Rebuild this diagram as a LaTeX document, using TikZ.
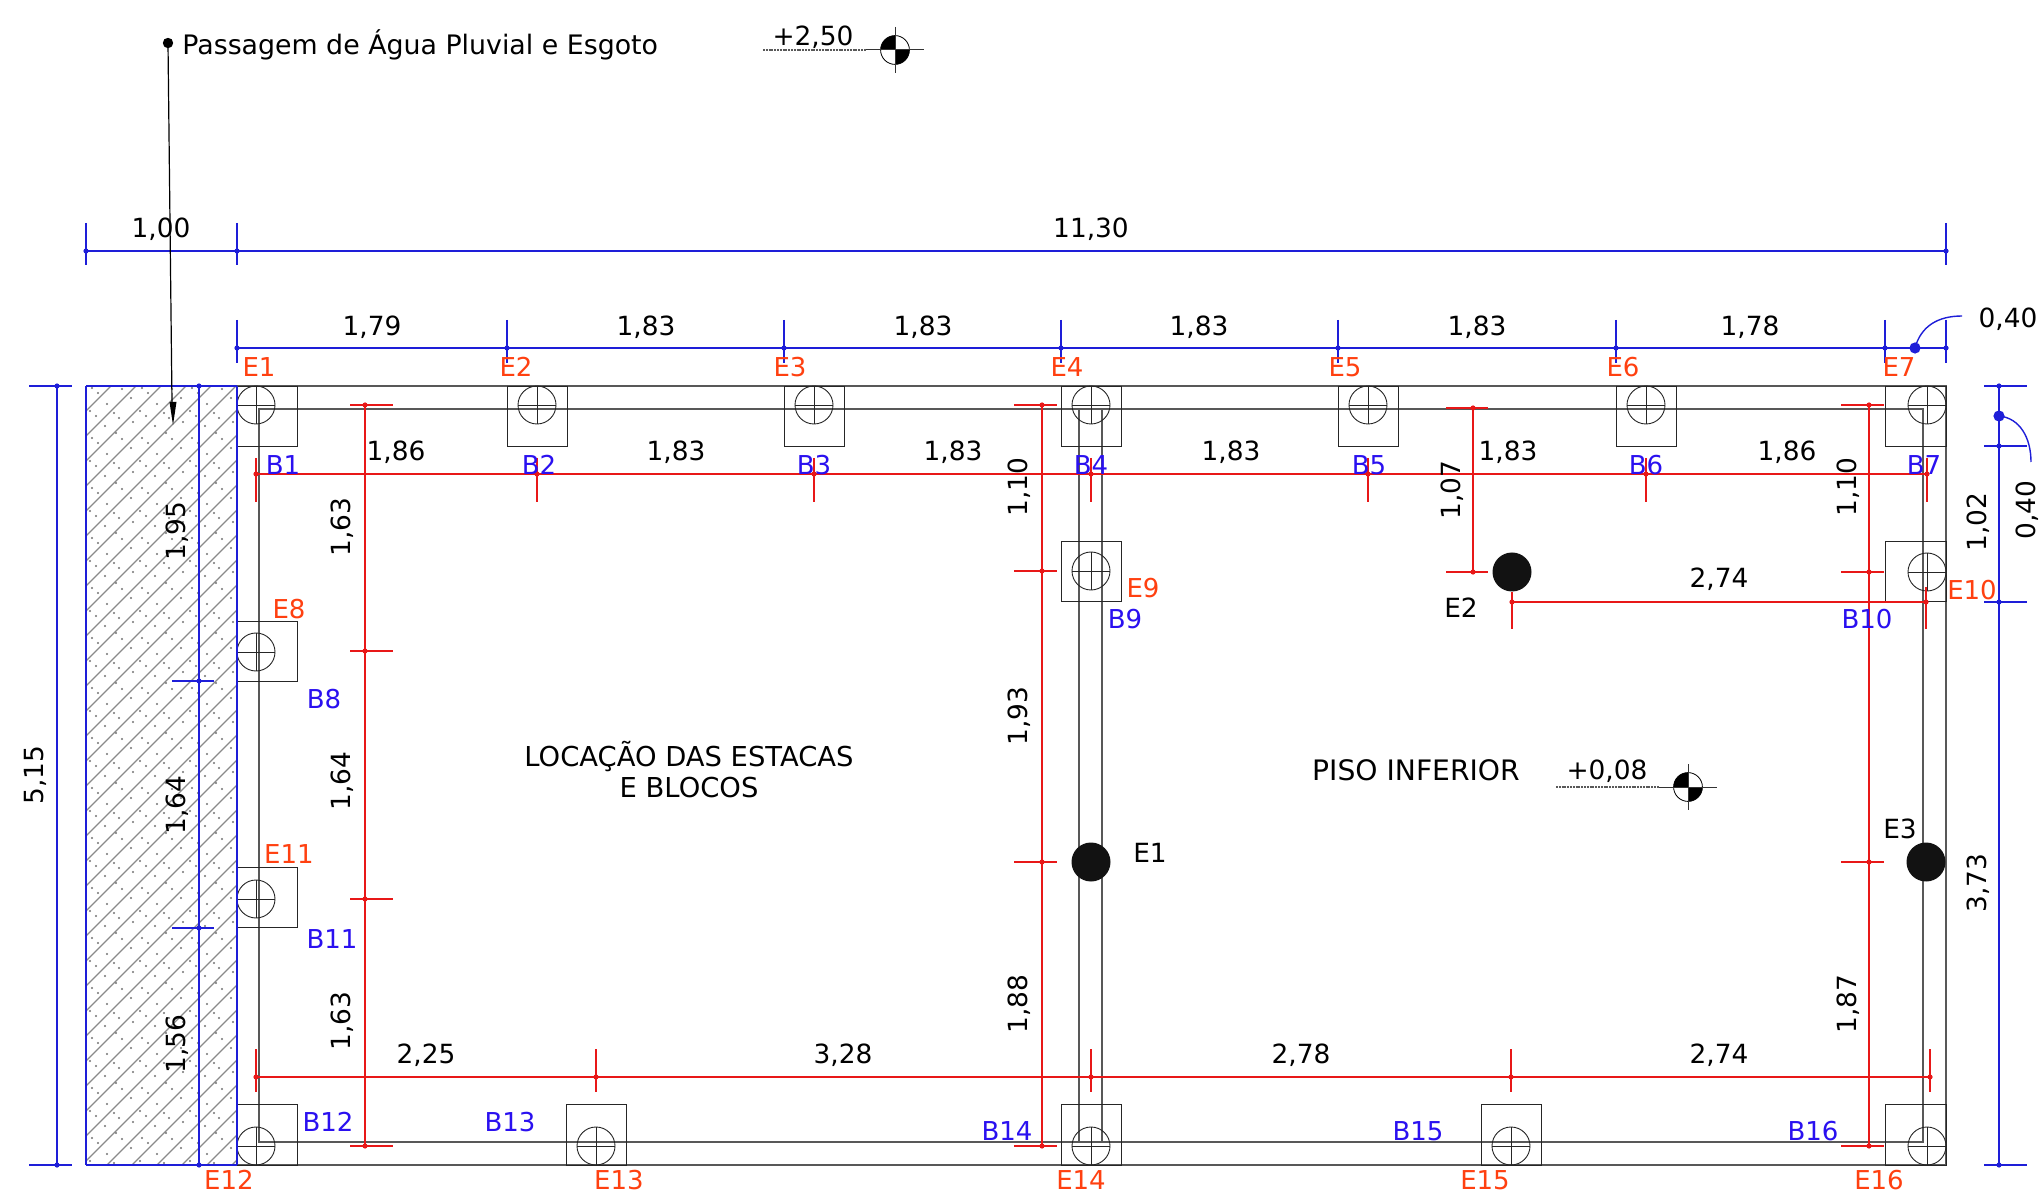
\documentclass[tikz,border=0pt]{standalone}
\usepackage{fontspec}
\setmainfont{DejaVu Sans}
\definecolor{bluel}{HTML}{1E1ED8}
\definecolor{bluet}{HTML}{2A10F0}
\definecolor{redl}{HTML}{E81818}
\definecolor{redt}{HTML}{FF4010}
\definecolor{wall}{HTML}{585858}
\definecolor{hatchg}{HTML}{8A8A8A}
\tikzset{
  wallline/.style={draw=wall,line width=0.55pt},
  blockbox/.style={draw=black!85,line width=0.45pt},
  pilering/.style={draw=black!85,line width=0.45pt},
  bdim/.style={draw=bluel,line width=0.7pt},
  rdim/.style={draw=redl,line width=0.7pt},
  txt/.style={font=\fontsize{13.2pt}{14pt}\selectfont,text=black,inner sep=0pt},
  bluetxt/.style={font=\fontsize{13pt}{14pt}\selectfont,text=bluet,inner sep=0pt},
  redtxt/.style={font=\fontsize{13pt}{14pt}\selectfont,text=redt,inner sep=0pt},
  solidpile/.style={circle,fill=black!93,draw=none,minimum size=19.5pt,inner sep=0pt},
}
% block: left, top, pile x, pile y
\newcommand{\blockat}[4]{%
  \draw[blockbox] (#1,#2) rectangle (#1+60.5,#2+60.5);
  \draw[pilering] (#3,#4) circle[radius=9.5pt];
  \draw[pilering] (#3-19,#4) -- (#3+19,#4) (#3,#4-19) -- (#3,#4+19);
}
% level marker: centre x, centre y, line start x
\newcommand{\levelmark}[3]{%
  \draw[black!65,line width=0.6pt,dash pattern=on 1pt off 0.4pt] (#3,#2) -- (#1-29,#2);
  \fill[white] (#1,#2) circle[radius=7.2pt];
  \fill[black] (#1,#2) -- (#1-14.4,#2) arc[start angle=180,end angle=90,radius=7.2pt] -- cycle;
  \fill[black] (#1,#2) -- (#1+14.4,#2) arc[start angle=0,end angle=-90,radius=7.2pt] -- cycle;
  \draw[black,line width=0.4pt] (#1,#2) circle[radius=7.2pt];
  \draw[black!80,line width=0.5pt] (#1-29,#2) -- (#1+29,#2) (#1,#2-23) -- (#1,#2+23);
}
\newcommand{\vlab}[3]{\node[txt,rotate=90,yshift=-0.6pt] at (#1,#2) {#3};}
\newcommand{\hlab}[3]{\node[txt,yshift=-0.4pt] at (#1,#2) {#3};}
\newcommand{\blab}[3]{\node[bluetxt,yshift=-0.4pt] at (#1,#2) {#3};}
\newcommand{\rlab}[3]{\node[redtxt,yshift=-0.4pt] at (#1,#2) {#3};}
\begin{document}
\begin{tikzpicture}[x=0.5pt,y=-0.5pt]
\useasboundingbox (0,0) rectangle (2042,1192);
\fill[white] (0,0) rectangle (2042,1192);
% hatched strip
\begin{scope}
\clip (86,386) rectangle (237,1165);
\foreach \c in {386,411,...,1340}
  \draw[hatchg,line width=0.7pt] (86,\c) -- (237,\c-151);
\foreach \yy in {380,430,...,1180}
  \foreach \xx in {86,136,186,236} {
    \foreach \dx/\dy in {6/8,12/13,30/3,36/9,21/24,45/18,4/31,10/36,28/33,33/38,47/42,19/46}
      \fill[black!55] (\xx+\dx,\yy+\dy) circle[radius=0.6pt];
  }
\end{scope}
% walls
\draw[wallline] (237,386) -- (1946,386) -- (1946,1165) -- (237,1165);
\draw[wallline] (259,1142) -- (259,409) -- (1923,409) -- (1923,1142) -- cycle;
\draw[wallline] (1079,409) -- (1079,1142) (1102,409) -- (1102,1142);
% blocks
\blockat{237}{386}{256}{405}
\blockat{507}{386}{537}{405}
\blockat{784}{386}{814}{405}
\blockat{1061}{386}{1091}{405}
\blockat{1338}{386}{1368}{405}
\blockat{1616}{386}{1646}{405}
\blockat{1885.5}{386}{1927}{405}
\blockat{237}{621}{256}{652}
\blockat{1061}{541}{1091}{571}
\blockat{1885.5}{541}{1927}{572}
\blockat{237}{867}{256}{899}
\blockat{237}{1104.5}{256}{1146}
\blockat{566}{1104.5}{596}{1146}
\blockat{1061}{1104.5}{1091}{1146}
\blockat{1481}{1104.5}{1511}{1146}
\blockat{1885.5}{1104.5}{1927}{1146}
% solid piles
\node[solidpile] (pileA) at (1091,862) {};
\node[solidpile] (pileB) at (1512,572) {};
\node[solidpile] (pileC) at (1926,862) {};
% red dimensions
\draw[rdim] (256,474) -- (1927,474);
\foreach \x in {256,537,814,1091,1368,1646,1927} {
  \draw[rdim] (\x,458) -- (\x,502);
  \fill[redl] (\x,474) circle[radius=1.3pt];
}
\draw[rdim] (365,405) -- (365,1146);
\foreach \y in {405,651,899,1146} {
  \draw[rdim] (350,\y) -- (393,\y);
  \fill[redl] (365,\y) circle[radius=1.3pt];
}
\draw[rdim] (256,1077) -- (1930,1077);
\foreach \x in {256,596,1091,1511,1930} {
  \draw[rdim] (\x,1049) -- (\x,1092);
  \fill[redl] (\x,1077) circle[radius=1.3pt];
}
\draw[rdim] (1042,405) -- (1042,1146);
\foreach \y in {405,571,862,1146} {
  \draw[rdim] (1014,\y) -- (1057,\y);
  \fill[redl] (1042,\y) circle[radius=1.3pt];
}
\draw[rdim] (1473,408) -- (1473,572);
\foreach \y in {408,572} {
  \draw[rdim] (1446,\y) -- (1488,\y);
  \fill[redl] (1473,\y) circle[radius=1.3pt];
}
\draw[rdim] (1512,602) -- (1926,602);
\draw[rdim] (1512,592) -- (1512,629);
\draw[rdim] (1926,587) -- (1926,629);
\fill[redl] (1512,602) circle[radius=1.3pt];
\fill[redl] (1926,602) circle[radius=1.3pt];
\draw[rdim] (1869,405) -- (1869,1146);
\foreach \y in {405,572,862,1146} {
  \draw[rdim] (1841,\y) -- (1884,\y);
  \fill[redl] (1869,\y) circle[radius=1.3pt];
}
% blue dimensions
\draw[bdim] (237,386) -- (237,1165) (86,386) -- (237,386) (86,1165) -- (237,1165) (86,386) -- (86,1165);
\draw[bdim] (86,251) -- (1946,251);
\foreach \x in {86,237,1946} {
  \draw[bdim] (\x,223) -- (\x,265);
  \fill[bluel] (\x,251) circle[radius=1.3pt];
}
\draw[bdim] (237,348) -- (1946,348);
\foreach \x in {237,507,784,1061,1338,1616,1885,1946} {
  \draw[bdim] (\x,320) -- (\x,363);
  \fill[bluel] (\x,348) circle[radius=1.3pt];
}
\draw[bdim] (57,386) -- (57,1165);
\foreach \y in {386,1165} {
  \draw[bdim] (29,\y) -- (72,\y);
  \fill[bluel] (57,\y) circle[radius=1.3pt];
}
\draw[bdim] (199,386) -- (199,1165);
\foreach \y in {386,681,928,1165} {
  \draw[bdim] (172,\y) -- (214,\y);
  \fill[bluel] (199,\y) circle[radius=1.3pt];
}
\draw[bdim] (1999,386) -- (1999,1165);
\foreach \y in {386,446,602,1165} {
  \draw[bdim] (1984,\y) -- (2027,\y);
  \fill[bluel] (1999,\y) circle[radius=1.3pt];
}
\coordinate (tagA) at (1915,348);
\coordinate (tagAe) at (1962,316);
\fill[bluel] (tagA) circle[radius=2.8pt];
\draw[bdim] (tagA) .. controls (1921,326) and (1938,316) .. (tagAe);
\coordinate (tagB) at (1999,416);
\coordinate (tagBe) at (2031,462);
\fill[bluel] (tagB) circle[radius=2.8pt];
\draw[bdim] (tagB) .. controls (2020,418) and (2031,438) .. (tagBe);
% leader
\coordinate (leadS) at (168,43);
\coordinate (leadN) at (172,402);
\coordinate (leadT) at (173,425);
\fill[black] (leadS) circle[radius=2.6pt];
\draw[black,line width=0.6pt] (leadS) -- (leadN);
\fill[black] (leadT) -- (169.5,402) -- (176.5,402) -- cycle;
% level markers
\levelmark{895}{50}{763}
\levelmark{1688}{787}{1556}
% texts
\node[txt,anchor=west,font=\fontsize{13.4pt}{14pt}\selectfont,yshift=-0.4pt] at (182,44) {Passagem de Água Pluvial e Esgoto};
\hlab{813}{36}{+2,50} \hlab{1607}{770}{+0,08}
\hlab{161}{228}{1,00} \hlab{1091}{228}{11,30}
\hlab{372}{326}{1,79} \hlab{646}{326}{1,83} \hlab{923}{326}{1,83} \hlab{1199}{326}{1,83} \hlab{1477}{326}{1,83} \hlab{1750}{326}{1,78}
\hlab{2008}{318}{0,40}
\hlab{396}{451}{1,86} \hlab{676}{451}{1,83} \hlab{953}{451}{1,83} \hlab{1231}{451}{1,83} \hlab{1508}{451}{1,83} \hlab{1787}{451}{1,86}
\hlab{1719}{578}{2,74}
\hlab{426}{1054}{2,25} \hlab{843}{1054}{3,28} \hlab{1301}{1054}{2,78} \hlab{1719}{1054}{2,74}
\node[txt,font=\fontsize{13.7pt}{14pt}\selectfont] at (689,757) {LOCAÇÃO DAS ESTACAS};
\node[txt,font=\fontsize{13.7pt}{14pt}\selectfont] at (689,788) {E BLOCOS};
\node[txt,font=\fontsize{14.1pt}{14pt}\selectfont] at (1416,770) {PISO INFERIOR};
\hlab{1461}{607}{E2} \hlab{1150}{852}{E1} \hlab{1900}{828}{E3}
\vlab{34}{775}{5,15}
\vlab{176}{531}{1,95} \vlab{176}{805}{1,64} \vlab{176}{1044}{1,56}
\vlab{341}{527}{1,63} \vlab{341}{781}{1,64} \vlab{341}{1021}{1,63}
\vlab{1018}{487}{1,10} \vlab{1018}{716}{1,93} \vlab{1018}{1004}{1,88}
\vlab{1451}{490}{1,07}
\vlab{1847}{487}{1,10} \vlab{1847}{1004}{1,87}
\vlab{1977}{522}{1,02} \vlab{1977}{883}{3,73} \vlab{2026}{510}{0,40}
\rlab{259}{366}{E1} \rlab{516}{366}{E2} \rlab{790}{366}{E3} \rlab{1067}{366}{E4} \rlab{1345}{366}{E5} \rlab{1623}{366}{E6} \rlab{1899}{366}{E7}
\rlab{289}{608}{E8} \rlab{1143}{587}{E9} \rlab{1972}{589}{E10} \rlab{289}{853}{E11}
\rlab{229}{1179.5}{E12} \rlab{619}{1179.5}{E13} \rlab{1081}{1179.5}{E14} \rlab{1485}{1179.5}{E15} \rlab{1879}{1179.5}{E16}
\blab{283}{464}{B1} \blab{539}{464}{B2} \blab{814}{464}{B3} \blab{1091}{464}{B4} \blab{1369}{464}{B5} \blab{1646}{464}{B6} \blab{1924}{464}{B7}
\blab{324}{698}{B8} \blab{1125}{618}{B9} \blab{1867}{618}{B10} \blab{332}{938}{B11}
\blab{328}{1121}{B12} \blab{510}{1121}{B13} \blab{1007}{1130}{B14} \blab{1418}{1130}{B15} \blab{1813}{1130}{B16}
\end{tikzpicture}
\end{document}
